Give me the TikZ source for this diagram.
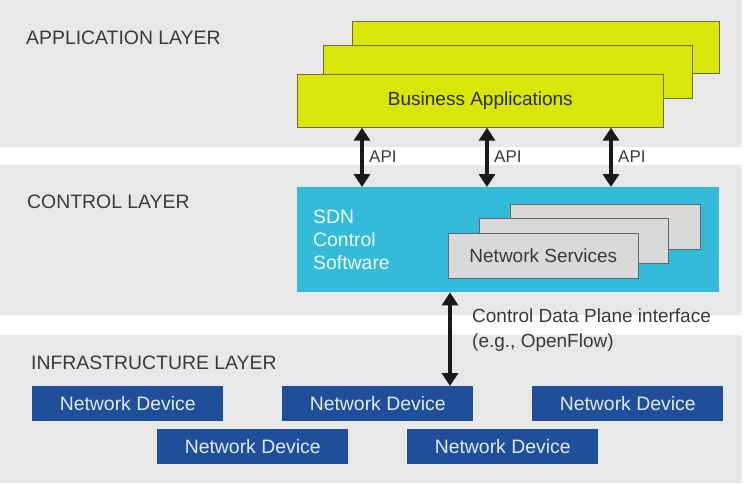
\documentclass[tikz,border=0pt]{standalone}
\usepackage{fontspec}
\setmainfont{Liberation Sans}
\usetikzlibrary{arrows.meta}
\definecolor{bandgray}{HTML}{E8E8E8}
\definecolor{appyellow}{HTML}{D9E60A}
\definecolor{yelledge}{HTML}{6E6E30}
\definecolor{ctlcyan}{HTML}{33BBD9}
\definecolor{svcgray}{HTML}{D9D9D9}
\definecolor{devnavy}{HTML}{1F4F9A}
\definecolor{txtdark}{HTML}{3A3A3A}
\tikzset{
  band/.style={fill=bandgray, draw=none},
  appbox/.style={rectangle, fill=appyellow, draw=yelledge, line width=0.7pt, anchor=north west, inner sep=0pt},
  svcbox/.style={rectangle, fill=svcgray, draw=black!60, line width=0.7pt, anchor=north west, inner sep=0pt},
  devbox/.style={rectangle, fill=devnavy, draw=none, anchor=north west, inner sep=0pt,
    minimum width=191pt, minimum height=35pt, text=white!88!devnavy, font=\fontsize{19.4}{23}\selectfont},
  layerlabel/.style={anchor=west, inner sep=0pt, text=txtdark, font=\fontsize{19.4}{23}\selectfont},
  apilabel/.style={anchor=west, inner sep=0pt, text=txtdark, font=\fontsize{17}{20}\selectfont},
  dblarrow/.style={line width=4.8pt, black!90, {Triangle[width=16pt,length=13pt]}-{Triangle[width=16pt,length=13pt]}},
}
\begin{document}
\begin{tikzpicture}[x=1pt, y=-1pt]
\useasboundingbox (0,0) rectangle (747,483);
% layer bands
\fill[band] (0,0) rectangle (742,147);
\fill[band] (0,165) rectangle (742,315);
\fill[band] (0,335) rectangle (742,483);

% layer labels
\node[layerlabel] (lapp) at (26,38) {APPLICATION LAYER};
\node[layerlabel] (lctl) at (27,202) {CONTROL LAYER};
\node[layerlabel] (linf) at (31,363) {INFRASTRUCTURE LAYER};

% business application stack
\node[appbox, minimum width=367pt, minimum height=52pt] (ba3) at (352,21) {};
\node[appbox, minimum width=369pt, minimum height=53pt] (ba2) at (323,45) {};
\node[appbox, minimum width=366pt, minimum height=53pt, text=black!80!appyellow,
  font=\fontsize{19}{23}\selectfont] (ba1) at (297,74) {Business Applications};

% SDN control software
\node[rectangle, fill=ctlcyan, draw=none, anchor=north west, inner sep=0pt,
  minimum width=422pt, minimum height=105pt] (sdn) at (297,187) {};
\node[anchor=west, inner sep=0pt, align=left, text=white!92!ctlcyan,
  font=\fontsize{19.4}{23}\selectfont] (sdntxt) at (313,240) {SDN\\Control\\Software};

% network services stack
\node[svcbox, minimum width=190pt, minimum height=45pt] (ns3) at (510,204) {};
\node[svcbox, minimum width=189pt, minimum height=45pt] (ns2) at (479,218) {};
\node[svcbox, minimum width=190pt, minimum height=45pt, text=txtdark,
  font=\fontsize{19}{23}\selectfont] (ns1) at (448,233) {Network Services};

% network devices
\node[devbox] (d1) at (32,386) {Network Device};
\node[devbox] (d2) at (282,386) {Network Device};
\node[devbox] (d3) at (532,386) {Network Device};
\node[devbox] (d4) at (157,429) {Network Device};
\node[devbox] (d5) at (407,429) {Network Device};

% API arrows
\draw[dblarrow] ([xshift=65pt]ba1.south west) -- ([xshift=65pt]sdn.north west);
\draw[dblarrow] ([xshift=190pt]ba1.south west) -- ([xshift=190pt]sdn.north west);
\draw[dblarrow] ([xshift=314pt]ba1.south west) -- ([xshift=314pt]sdn.north west);
\node[apilabel] (api1) at (369,157) {API};
\node[apilabel] (api2) at (494,157) {API};
\node[apilabel] (api3) at (618,157) {API};

% control data plane arrow
\draw[dblarrow] ([xshift=153pt]sdn.south west) -- ([xshift=168pt]d2.north west);
\node[anchor=west, inner sep=0pt, align=left, text=txtdark,
  font=\fontsize{19}{25}\selectfont] (cdp) at (472,330) {Control Data Plane interface\\(e.g., OpenFlow)};
\end{tikzpicture}
\end{document}
